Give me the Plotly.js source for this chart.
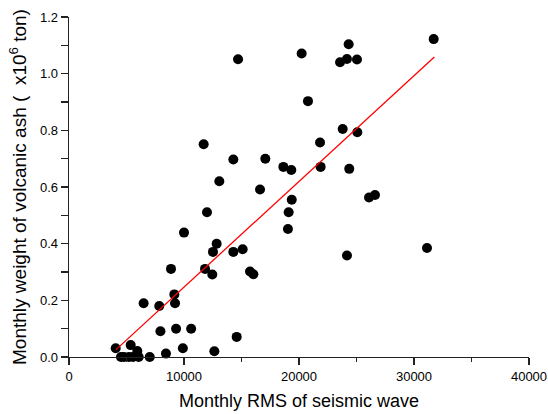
<!DOCTYPE html>
<html>
<head>
<meta charset="utf-8">
<script src="https://cdn.plot.ly/plotly-3.0.1.min.js"></script>
<style>html,body{margin:0;padding:0;background:#fff;}#chart{width:548px;height:414px;}</style>
</head>
<body>
<div id="chart"></div>
<script>
// Monthly RMS of seismic wave
const rms = [4060, 4520, 4780, 5220, 5570, 5365, 5940, 6060, 7020, 8430,
  9900, 6490, 7850, 9160, 9220, 7950, 9310, 10620, 8870, 10000,
  12000, 12840, 12520, 14290, 15100, 11830, 12460, 15740, 16030, 14580,
  12640, 19100, 19040, 19370, 11710, 14290, 17070, 13070, 16610, 21830,
  18640, 19330, 21880, 24370, 25070, 24170, 20230, 24320, 23570, 24170,
  25040, 31710, 20780, 23800, 14700, 31130, 26610, 26090];
// Monthly weight of volcanic ash (x10^6 ton)
const ash = [0.031, 0.0, 0.0, 0.0, 0.0, 0.042, 0.021, 0.0, 0.0, 0.012,
  0.031, 0.19, 0.18, 0.221, 0.19, 0.091, 0.10, 0.10, 0.311, 0.439,
  0.511, 0.40, 0.371, 0.371, 0.38, 0.311, 0.291, 0.302, 0.292, 0.071,
  0.02, 0.511, 0.452, 0.555, 0.751, 0.697, 0.70, 0.62, 0.591, 0.757,
  0.671, 0.66, 0.671, 0.664, 0.793, 0.358, 1.071, 1.104, 1.04, 1.052,
  1.05, 1.122, 0.903, 0.805, 1.051, 0.385, 0.572, 0.563];
// Regression line ends
const fitX = [4090, 31770];
const fitY = [0.026, 1.059];

const xTicks = [0, 10000, 20000, 30000, 40000];
const yTicks = [0.0, 0.2, 0.4, 0.6, 0.8, 1.0, 1.2];

const font = 'Liberation Sans, Arial, Helvetica, sans-serif';

const data = [
  {x: rms, y: ash, type: 'scatter', mode: 'markers',
   marker: {color: '#000', size: 10}, cliponaxis: false, hoverinfo: 'x+y'},
  {x: fitX, y: fitY, type: 'scatter', mode: 'lines',
   line: {color: '#ff0000', width: 1.3}}
];

const layout = {
  width: 548, height: 414,
  margin: {l: 69, r: 19, t: 17, b: 57},
  paper_bgcolor: '#fff', plot_bgcolor: '#fff',
  showlegend: false,
  font: {family: font, size: 13, color: '#000'},
  xaxis: {
    range: [0, 40000], tickvals: xTicks, ticktext: xTicks.map(String),
    showgrid: false, zeroline: false, showline: true, linecolor: '#222', linewidth: 1.3,
    ticks: 'outside', ticklen: 7, tickwidth: 1.3, tickcolor: '#222',
    minor: {dtick: 5000, tick0: 0, ticks: 'outside', ticklen: 4, tickwidth: 1.3, tickcolor: '#222', showgrid: false},
    tickfont: {size: 13, color: '#000'},
    title: {text: 'Monthly RMS of seismic wave', font: {size: 18, color: '#000'}, standoff: 11},
    fixedrange: true
  },
  yaxis: {
    range: [0, 1.2], tickvals: yTicks, ticktext: yTicks.map(v => v.toFixed(1)),
    showgrid: false, zeroline: false, showline: true, linecolor: '#222', linewidth: 1.3,
    ticks: 'outside', ticklen: 7, tickwidth: 1.3, tickcolor: '#222',
    minor: {dtick: 0.1, tick0: 0, ticks: 'outside', ticklen: 7, tickwidth: 1.3, tickcolor: '#222', showgrid: false},
    tickfont: {size: 13, color: '#000'},
    title: {text: 'Monthly weight of volcanic ash (  x10<sup>6</sup> ton)', font: {size: 19, color: '#000'}, standoff: 8},
    fixedrange: true
  }
};

Plotly.newPlot('chart', data, layout, {displayModeBar: false, staticPlot: true});
</script>
</body>
</html>
